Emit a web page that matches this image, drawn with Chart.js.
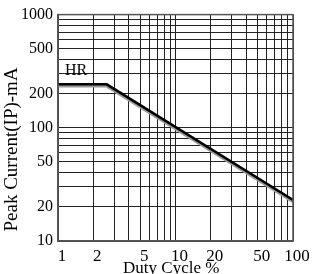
<!DOCTYPE html>
<html>
<head>
<meta charset="utf-8">
<script src="https://cdn.jsdelivr.net/npm/chart.js@4/dist/chart.umd.min.js"></script>
<style>
  html, body { margin: 0; padding: 0; overflow: hidden; background: #fff; }
  #wrap { position: absolute; left: 0; top: 0; width: 318px; height: 281px; }
</style>
</head>
<body>
<div id="wrap"><canvas id="dutyChart"></canvas></div>
<script>
// curve HR
var dutyCycle = [1, 2.6, 100];
var peakCurrent = [242, 242, 23];

// grid lines and which of them get a label
var xGrid = [1, 2, 3, 4, 5, 6, 7, 8, 9, 10, 20, 30, 40, 50, 60, 70, 80, 90, 100];
var xLabels = [1, 2, 5, 10, 20, 50, 100];
var yGrid = [10, 20, 30, 40, 50, 60, 70, 80, 90, 100, 200, 300, 400, 500, 600, 700, 800, 900, 1000];
var yLabels = [10, 20, 50, 100, 200, 500, 1000];

var serif = 'Liberation Serif';

// gray trace under the black line, then the curve name
var shadowLine = {
  id: 'shadowLine',
  beforeDatasetsDraw: function (chart) {
    var ctx = chart.ctx;
    ctx.save();
    ctx.shadowColor = '#999';
    ctx.shadowOffsetX = 0;
    ctx.shadowOffsetY = 2;
    ctx.shadowBlur = 0;
  },
  afterDatasetsDraw: function (chart) {
    var ctx = chart.ctx;
    ctx.restore();
    var pt = chart.getDatasetMeta(0).data[0];
    ctx.save();
    ctx.font = '16px "' + serif + '"';
    ctx.fillStyle = '#000';
    ctx.textBaseline = 'alphabetic';
    ctx.fillText(chart.data.datasets[0].label, pt.x + 7, pt.y - 9);
    ctx.restore();
  }
};

var frame = {
  id: 'frame',
  afterDraw: function (chart) {
    var a = chart.chartArea, ctx = chart.ctx;
    ctx.save();
    ctx.strokeStyle = '#555';
    ctx.lineWidth = 1.5;
    ctx.strokeRect(a.left, a.top, a.right - a.left, a.bottom - a.top);
    ctx.restore();
  }
};

var points = dutyCycle.map(function (d, i) { return { x: d, y: peakCurrent[i] }; });

new Chart(document.getElementById('dutyChart').getContext('2d'), {
  type: 'line',
  data: {
    datasets: [{
      label: 'HR',
      data: points,
      borderColor: '#000',
      borderWidth: 2.5,
      pointRadius: 0,
      tension: 0,
      fill: false
    }]
  },
  options: {
    responsive: true,
    maintainAspectRatio: false,
    animation: false,
    layout: { padding: { left: 0, top: 14, right: 25, bottom: 0 } },
    plugins: { legend: { display: false }, tooltip: { enabled: false } },
    scales: {
      x: {
        type: 'logarithmic',
        min: 1,
        max: 100,
        afterBuildTicks: function (scale) {
          scale.ticks = xGrid.map(function (v) { return { value: v }; });
        },
        afterFit: function (scale) { scale.height = 40; },
        grid: { color: '#222', lineWidth: 1, drawTicks: false },
        border: { color: '#555', width: 1.5 },
        ticks: {
          autoSkip: false,
          maxRotation: 0,
          padding: 5,
          labelOffset: 4,
          color: '#000',
          font: { family: serif, size: 17 },
          callback: function (v) { return xLabels.indexOf(v) >= 0 ? String(v) : ''; }
        },
        title: {
          display: true,
          text: 'Duty Cycle %  ',
          color: '#000',
          padding: { top: 0, bottom: 2 },
          font: { family: serif, size: 17 }
        }
      },
      y: {
        type: 'logarithmic',
        min: 10,
        max: 1000,
        afterBuildTicks: function (scale) {
          scale.ticks = yGrid.map(function (v) { return { value: v }; });
        },
        afterFit: function (scale) { scale.width = 58; },
        grid: { color: '#222', lineWidth: 1, drawTicks: false },
        border: { color: '#555', width: 1.5 },
        ticks: {
          autoSkip: false,
          padding: 5,
          color: '#000',
          font: { family: serif, size: 16 },
          callback: function (v) { return yLabels.indexOf(v) >= 0 ? String(v) : ''; }
        },
        title: {
          display: true,
          text: '  Peak Current(IP)-mA',
          align: 'start',
          color: '#000',
          padding: { top: 1, bottom: 0 },
          font: { family: serif, size: 19 }
        }
      }
    }
  },
  plugins: [shadowLine, frame]
});
</script>
</body>
</html>
